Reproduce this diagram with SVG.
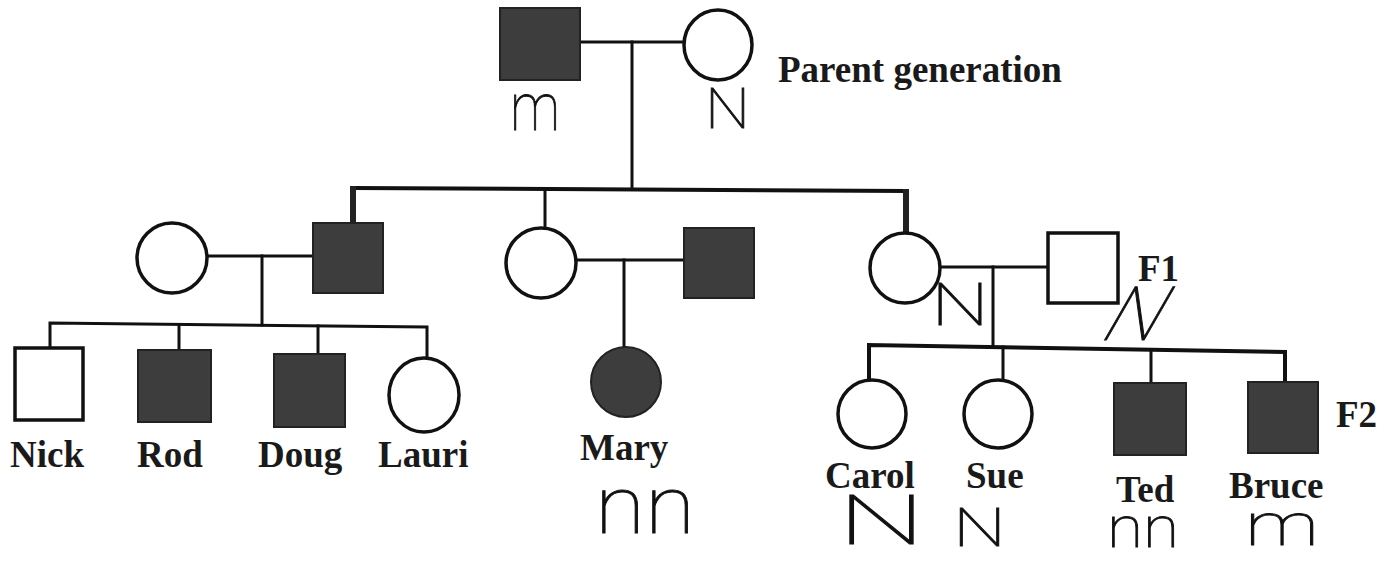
<svg xmlns="http://www.w3.org/2000/svg" width="1390" height="562" viewBox="0 0 1390 562">
  <style>
    .bg { fill: #ffffff; }
    .line { fill: none; stroke: #111; stroke-width: 3; stroke-linecap: square; }
    .thick { fill: none; stroke: #222; stroke-width: 6; }
    .aff { fill: #3d3d3d; stroke: #222; stroke-width: 2; }
    .un { fill: #ffffff; stroke: #111; stroke-width: 3.5; }
    .name { font-family: "Liberation Serif", "Times New Roman", serif; font-weight: bold; font-size: 37px; fill: #1a1a1a; }
    .hand { font-family: Roboto, "DejaVu Sans", sans-serif; font-weight: 100; fill: #111; stroke: #111; stroke-width: 0.8; }
  </style>
  <rect class="bg" x="0" y="0" width="1390" height="562"/>

  <!-- lines of descent and mating -->
  <g id="connectors">
    <!-- parent couple -->
    <path class="line" d="M580,42 H685"/>
    <path class="line" d="M632,42 V189"/>
    <!-- generation II sibship -->
    <path class="line" d="M353,188 L906,191" style="stroke-width:4"/>
    <path class="thick" d="M353,186 V223"/>
    <path class="line" d="M545,189 V228"/>
    <path class="thick" d="M906,189 V233"/>
    <!-- left couple and children -->
    <path class="line" d="M208,256 H313"/>
    <path class="line" d="M262,256 V325"/>
    <path class="line" d="M50,348 V323 L427,327 V357"/>
    <path class="line" d="M179,325 V350"/>
    <path class="line" d="M318,326 V354"/>
    <!-- middle couple and child -->
    <path class="line" d="M576,260 H684"/>
    <path class="line" d="M624,260 V347"/>
    <!-- right couple and children -->
    <path class="line" d="M940,267 H1048"/>
    <path class="line" d="M993,267 V347"/>
    <path class="line" d="M869,381 V345 L1285,352 V382" style="stroke-width:4"/>
    <path class="line" d="M1003,347 V382"/>
    <path class="line" d="M1151,350 V383"/>
  </g>

  <!-- generation I -->
  <g id="p-father"><rect class="aff" x="500" y="8" width="80" height="72"/></g>
  <g id="p-mother"><ellipse class="un" cx="718" cy="45" rx="34" ry="35"/></g>
  <text class="name" x="778" y="82">Parent generation</text>

  <!-- generation II -->
  <g id="left-wife"><circle class="un" cx="172" cy="258" r="35"/></g>
  <g id="left-son"><rect class="aff" x="313" y="223" width="70" height="70"/></g>
  <g id="mid-daughter"><circle class="un" cx="541" cy="263" r="35"/></g>
  <g id="mid-husband"><rect class="aff" x="684" y="228" width="70" height="70"/></g>
  <g id="right-daughter"><circle class="un" cx="905" cy="268" r="35"/></g>
  <g id="right-husband"><rect class="un" x="1048" y="233" width="70" height="70"/></g>
  <text class="name" x="1138" y="281">F1</text>

  <!-- generation III -->
  <g id="nick"><rect class="un" x="15" y="348" width="68" height="72"/><text class="name" x="10" y="467">Nick</text></g>
  <g id="rod"><rect class="aff" x="138" y="350" width="73" height="72"/><text class="name" x="137" y="467">Rod</text></g>
  <g id="doug"><rect class="aff" x="274" y="354" width="71" height="73"/><text class="name" x="258" y="467">Doug</text></g>
  <g id="lauri"><ellipse class="un" cx="424" cy="395" rx="35" ry="37"/><text class="name" x="378" y="467">Lauri</text></g>
  <g id="mary"><circle class="aff" cx="626" cy="382" r="35"/><text class="name" x="580" y="460">Mary</text></g>
  <g id="carol"><ellipse class="un" cx="872" cy="414" rx="34" ry="34"/><text class="name" x="825" y="488">Carol</text></g>
  <g id="sue"><ellipse class="un" cx="998" cy="414" rx="34" ry="34"/><text class="name" x="966" y="488">Sue</text></g>
  <g id="ted"><rect class="aff" x="1114" y="383" width="72" height="72"/><text class="name" x="1116" y="502">Ted</text></g>
  <g id="bruce"><rect class="aff" x="1248" y="382" width="70" height="71"/><text class="name" x="1229" y="498">Bruce</text></g>
  <text class="name" x="1336" y="427">F2</text>

  <!-- handwritten genotypes -->
  <g id="genotypes">
    <text class="hand" x="510" y="130" font-size="66" textLength="50" lengthAdjust="spacingAndGlyphs">m</text>
    <text class="hand" x="705" y="128" font-size="56" textLength="45" lengthAdjust="spacingAndGlyphs">N</text>
    <text class="hand" x="931" y="325" font-size="60" textLength="58" lengthAdjust="spacingAndGlyphs">N</text>
    <text class="hand" x="1293" y="340" font-size="75" textLength="55" lengthAdjust="spacingAndGlyphs" transform="skewX(-30)">N</text>
    <text class="hand" x="595" y="533" font-size="80" textLength="100" lengthAdjust="spacingAndGlyphs">nn</text>
    <text class="hand" x="838" y="544" font-size="68" textLength="87" lengthAdjust="spacingAndGlyphs">N</text>
    <text class="hand" x="953" y="546" font-size="54" textLength="53" lengthAdjust="spacingAndGlyphs">N</text>
    <text class="hand" x="1107" y="547" font-size="58" textLength="72" lengthAdjust="spacingAndGlyphs">nn</text>
    <text class="hand" x="1245" y="545" font-size="60" textLength="74" lengthAdjust="spacingAndGlyphs">m</text>
  </g>
</svg>
